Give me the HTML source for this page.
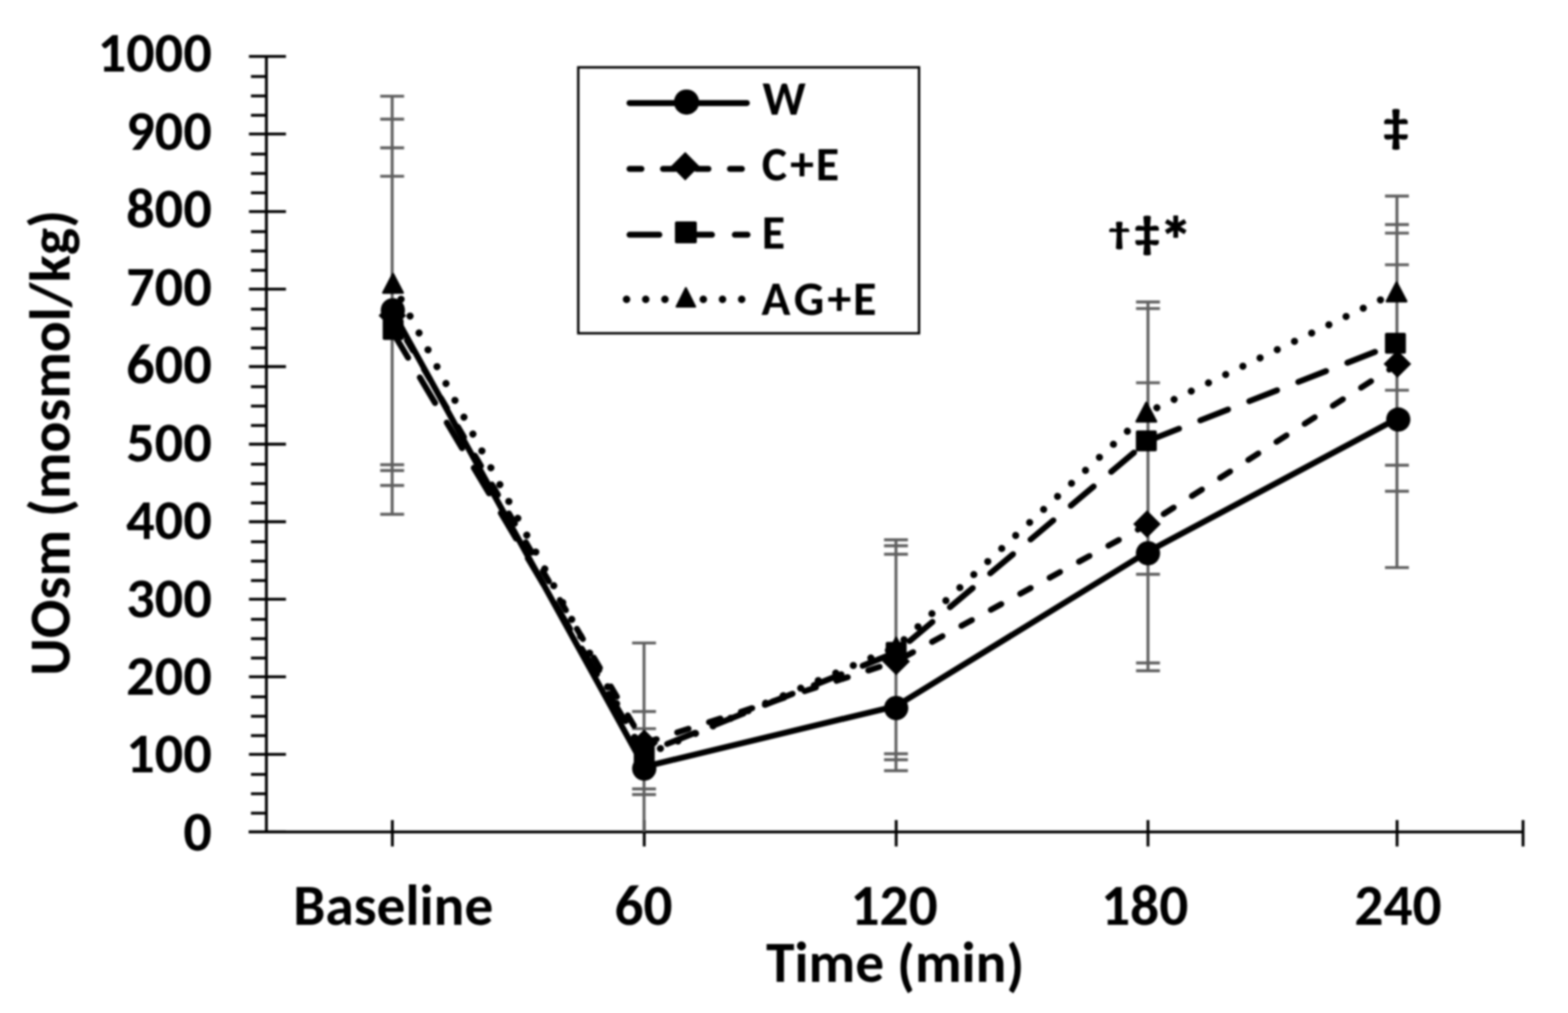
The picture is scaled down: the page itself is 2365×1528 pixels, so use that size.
<!DOCTYPE html>
<html><head><meta charset="utf-8"><title>UOsm chart</title>
<style>
html,body{margin:0;padding:0;background:#fff;}
body{width:2365px;height:1528px;overflow:hidden;}
svg{display:block;filter:blur(1.7px);}
text{font-family:Carlito, 'Liberation Sans', sans-serif;font-weight:bold;fill:#000;font-size-adjust:0.485;}
</style></head><body>
<svg width="2365" height="1528" viewBox="0 0 2365 1528">
<rect width="2365" height="1528" fill="#fff"/>
<line x1="401.8" y1="85.2" x2="401.8" y2="1254.8" stroke="#000" stroke-width="4.3"/>
<line x1="375" y1="1254.8" x2="2297.2" y2="1254.8" stroke="#000" stroke-width="4.3"/>
<line x1="375.5" y1="1254.8" x2="431.3" y2="1254.8" stroke="#000" stroke-width="4.3"/>
<line x1="378.5" y1="1226.6" x2="401.8" y2="1226.6" stroke="#000" stroke-width="4.3"/>
<line x1="378.5" y1="1197.3" x2="401.8" y2="1197.3" stroke="#000" stroke-width="4.3"/>
<line x1="378.5" y1="1168.1" x2="401.8" y2="1168.1" stroke="#000" stroke-width="4.3"/>
<line x1="375.5" y1="1137.8" x2="431.3" y2="1137.8" stroke="#000" stroke-width="4.3"/>
<line x1="378.5" y1="1109.6" x2="401.8" y2="1109.6" stroke="#000" stroke-width="4.3"/>
<line x1="378.5" y1="1080.4" x2="401.8" y2="1080.4" stroke="#000" stroke-width="4.3"/>
<line x1="378.5" y1="1051.1" x2="401.8" y2="1051.1" stroke="#000" stroke-width="4.3"/>
<line x1="375.5" y1="1020.9" x2="431.3" y2="1020.9" stroke="#000" stroke-width="4.3"/>
<line x1="378.5" y1="992.6" x2="401.8" y2="992.6" stroke="#000" stroke-width="4.3"/>
<line x1="378.5" y1="963.4" x2="401.8" y2="963.4" stroke="#000" stroke-width="4.3"/>
<line x1="378.5" y1="934.2" x2="401.8" y2="934.2" stroke="#000" stroke-width="4.3"/>
<line x1="375.5" y1="903.9" x2="431.3" y2="903.9" stroke="#000" stroke-width="4.3"/>
<line x1="378.5" y1="875.7" x2="401.8" y2="875.7" stroke="#000" stroke-width="4.3"/>
<line x1="378.5" y1="846.4" x2="401.8" y2="846.4" stroke="#000" stroke-width="4.3"/>
<line x1="378.5" y1="817.2" x2="401.8" y2="817.2" stroke="#000" stroke-width="4.3"/>
<line x1="375.5" y1="787.0" x2="431.3" y2="787.0" stroke="#000" stroke-width="4.3"/>
<line x1="378.5" y1="758.7" x2="401.8" y2="758.7" stroke="#000" stroke-width="4.3"/>
<line x1="378.5" y1="729.5" x2="401.8" y2="729.5" stroke="#000" stroke-width="4.3"/>
<line x1="378.5" y1="700.2" x2="401.8" y2="700.2" stroke="#000" stroke-width="4.3"/>
<line x1="375.5" y1="670.0" x2="431.3" y2="670.0" stroke="#000" stroke-width="4.3"/>
<line x1="378.5" y1="641.8" x2="401.8" y2="641.8" stroke="#000" stroke-width="4.3"/>
<line x1="378.5" y1="612.5" x2="401.8" y2="612.5" stroke="#000" stroke-width="4.3"/>
<line x1="378.5" y1="583.3" x2="401.8" y2="583.3" stroke="#000" stroke-width="4.3"/>
<line x1="375.5" y1="553.0" x2="431.3" y2="553.0" stroke="#000" stroke-width="4.3"/>
<line x1="378.5" y1="524.8" x2="401.8" y2="524.8" stroke="#000" stroke-width="4.3"/>
<line x1="378.5" y1="495.6" x2="401.8" y2="495.6" stroke="#000" stroke-width="4.3"/>
<line x1="378.5" y1="466.3" x2="401.8" y2="466.3" stroke="#000" stroke-width="4.3"/>
<line x1="375.5" y1="436.1" x2="431.3" y2="436.1" stroke="#000" stroke-width="4.3"/>
<line x1="378.5" y1="407.8" x2="401.8" y2="407.8" stroke="#000" stroke-width="4.3"/>
<line x1="378.5" y1="378.6" x2="401.8" y2="378.6" stroke="#000" stroke-width="4.3"/>
<line x1="378.5" y1="349.4" x2="401.8" y2="349.4" stroke="#000" stroke-width="4.3"/>
<line x1="375.5" y1="319.1" x2="431.3" y2="319.1" stroke="#000" stroke-width="4.3"/>
<line x1="378.5" y1="290.9" x2="401.8" y2="290.9" stroke="#000" stroke-width="4.3"/>
<line x1="378.5" y1="261.6" x2="401.8" y2="261.6" stroke="#000" stroke-width="4.3"/>
<line x1="378.5" y1="232.4" x2="401.8" y2="232.4" stroke="#000" stroke-width="4.3"/>
<line x1="375.5" y1="202.2" x2="431.3" y2="202.2" stroke="#000" stroke-width="4.3"/>
<line x1="378.5" y1="173.9" x2="401.8" y2="173.9" stroke="#000" stroke-width="4.3"/>
<line x1="378.5" y1="144.7" x2="401.8" y2="144.7" stroke="#000" stroke-width="4.3"/>
<line x1="378.5" y1="115.4" x2="401.8" y2="115.4" stroke="#000" stroke-width="4.3"/>
<line x1="375.5" y1="85.2" x2="431.3" y2="85.2" stroke="#000" stroke-width="4.3"/>
<line x1="591.8" y1="1237" x2="591.8" y2="1276.8" stroke="#000" stroke-width="4.3"/>
<line x1="971.7" y1="1237" x2="971.7" y2="1276.8" stroke="#000" stroke-width="4.3"/>
<line x1="1351.7" y1="1237" x2="1351.7" y2="1276.8" stroke="#000" stroke-width="4.3"/>
<line x1="1731.5" y1="1237" x2="1731.5" y2="1276.8" stroke="#000" stroke-width="4.3"/>
<line x1="2107.2" y1="1237" x2="2107.2" y2="1276.8" stroke="#000" stroke-width="4.3"/>
<line x1="2297.2" y1="1237" x2="2297.2" y2="1276.8" stroke="#000" stroke-width="4.3"/>
<line x1="591.5" y1="145.1" x2="591.5" y2="775.7" stroke="#5e5e5e" stroke-width="4.4"/>
<line x1="573.5" y1="145.1" x2="609.5" y2="145.1" stroke="#5e5e5e" stroke-width="4.4"/>
<line x1="573.5" y1="179.8" x2="609.5" y2="179.8" stroke="#5e5e5e" stroke-width="4.4"/>
<line x1="573.5" y1="223" x2="609.5" y2="223" stroke="#5e5e5e" stroke-width="4.4"/>
<line x1="573.5" y1="265.9" x2="609.5" y2="265.9" stroke="#5e5e5e" stroke-width="4.4"/>
<line x1="573.5" y1="701" x2="609.5" y2="701" stroke="#5e5e5e" stroke-width="4.4"/>
<line x1="573.5" y1="709.8" x2="609.5" y2="709.8" stroke="#5e5e5e" stroke-width="4.4"/>
<line x1="573.5" y1="732.3" x2="609.5" y2="732.3" stroke="#5e5e5e" stroke-width="4.4"/>
<line x1="573.5" y1="775.7" x2="609.5" y2="775.7" stroke="#5e5e5e" stroke-width="4.4"/>
<line x1="971.4" y1="969.9" x2="971.4" y2="1254.8" stroke="#5e5e5e" stroke-width="4.4"/>
<line x1="953.4" y1="969.9" x2="989.4" y2="969.9" stroke="#5e5e5e" stroke-width="4.4"/>
<line x1="953.4" y1="1073.3" x2="989.4" y2="1073.3" stroke="#5e5e5e" stroke-width="4.4"/>
<line x1="953.4" y1="1099.1" x2="989.4" y2="1099.1" stroke="#5e5e5e" stroke-width="4.4"/>
<line x1="953.4" y1="1190" x2="989.4" y2="1190" stroke="#5e5e5e" stroke-width="4.4"/>
<line x1="953.4" y1="1198.5" x2="989.4" y2="1198.5" stroke="#5e5e5e" stroke-width="4.4"/>
<line x1="1351.4" y1="814.2" x2="1351.4" y2="1162.5" stroke="#5e5e5e" stroke-width="4.4"/>
<line x1="1333.4" y1="814.2" x2="1369.4" y2="814.2" stroke="#5e5e5e" stroke-width="4.4"/>
<line x1="1333.4" y1="823.2" x2="1369.4" y2="823.2" stroke="#5e5e5e" stroke-width="4.4"/>
<line x1="1333.4" y1="836" x2="1369.4" y2="836" stroke="#5e5e5e" stroke-width="4.4"/>
<line x1="1333.4" y1="1137" x2="1369.4" y2="1137" stroke="#5e5e5e" stroke-width="4.4"/>
<line x1="1333.4" y1="1146" x2="1369.4" y2="1146" stroke="#5e5e5e" stroke-width="4.4"/>
<line x1="1333.4" y1="1162.5" x2="1369.4" y2="1162.5" stroke="#5e5e5e" stroke-width="4.4"/>
<line x1="1731.5" y1="455.5" x2="1731.5" y2="1011.8" stroke="#5e5e5e" stroke-width="4.4"/>
<line x1="1713.5" y1="455.5" x2="1749.5" y2="455.5" stroke="#5e5e5e" stroke-width="4.4"/>
<line x1="1713.5" y1="465.4" x2="1749.5" y2="465.4" stroke="#5e5e5e" stroke-width="4.4"/>
<line x1="1713.5" y1="577.4" x2="1749.5" y2="577.4" stroke="#5e5e5e" stroke-width="4.4"/>
<line x1="1713.5" y1="866.3" x2="1749.5" y2="866.3" stroke="#5e5e5e" stroke-width="4.4"/>
<line x1="1713.5" y1="1000" x2="1749.5" y2="1000" stroke="#5e5e5e" stroke-width="4.4"/>
<line x1="1713.5" y1="1011.8" x2="1749.5" y2="1011.8" stroke="#5e5e5e" stroke-width="4.4"/>
<line x1="2107.0" y1="295.7" x2="2107.0" y2="856.1" stroke="#5e5e5e" stroke-width="4.4"/>
<line x1="2089.0" y1="295.7" x2="2125.0" y2="295.7" stroke="#5e5e5e" stroke-width="4.4"/>
<line x1="2089.0" y1="338.7" x2="2125.0" y2="338.7" stroke="#5e5e5e" stroke-width="4.4"/>
<line x1="2089.0" y1="351.6" x2="2125.0" y2="351.6" stroke="#5e5e5e" stroke-width="4.4"/>
<line x1="2089.0" y1="399.4" x2="2125.0" y2="399.4" stroke="#5e5e5e" stroke-width="4.4"/>
<line x1="2089.0" y1="588.6" x2="2125.0" y2="588.6" stroke="#5e5e5e" stroke-width="4.4"/>
<line x1="2089.0" y1="701.8" x2="2125.0" y2="701.8" stroke="#5e5e5e" stroke-width="4.4"/>
<line x1="2089.0" y1="741" x2="2125.0" y2="741" stroke="#5e5e5e" stroke-width="4.4"/>
<line x1="2089.0" y1="856.1" x2="2125.0" y2="856.1" stroke="#5e5e5e" stroke-width="4.4"/>
<polyline points="591.8,469.0 971.7,1156.5 1351.7,1065.0 1731.5,832.0 2107.2,631.5" fill="none" stroke="#000" stroke-width="9.0" stroke-linejoin="round"/>
<line x1="591.8" y1="476.0" x2="971.7" y2="1121.0" stroke="#000" stroke-width="9.0" stroke-dasharray="18.00 32.50" stroke-dashoffset="7.19" stroke-linecap="round"/>
<line x1="971.7" y1="1121.0" x2="1351.7" y2="997.7" stroke="#000" stroke-width="9.0" stroke-dasharray="18.00 32.50" stroke-dashoffset="48.75" stroke-linecap="round"/>
<line x1="1351.7" y1="997.7" x2="1731.5" y2="790.5" stroke="#000" stroke-width="9.0" stroke-dasharray="18.00 32.50" stroke-dashoffset="39.40" stroke-linecap="round"/>
<line x1="1731.5" y1="790.5" x2="2107.2" y2="550.0" stroke="#000" stroke-width="9.0" stroke-dasharray="18.00 32.50" stroke-dashoffset="22.40" stroke-linecap="round"/>
<line x1="591.8" y1="500.0" x2="971.7" y2="1136.0" stroke="#000" stroke-width="9.0" stroke-dasharray="45.00 34.40" stroke-dashoffset="78.10" stroke-linecap="round"/>
<line x1="971.7" y1="1136.0" x2="1351.7" y2="984.0" stroke="#000" stroke-width="9.0" stroke-dasharray="45.00 34.40" stroke-dashoffset="42.23" stroke-linecap="round"/>
<line x1="1351.7" y1="984.0" x2="1731.5" y2="665.0" stroke="#000" stroke-width="9.0" stroke-dasharray="45.00 34.40" stroke-dashoffset="53.00" stroke-linecap="round"/>
<line x1="1731.5" y1="665.0" x2="2107.2" y2="517.8" stroke="#000" stroke-width="9.0" stroke-dasharray="45.00 34.40" stroke-dashoffset="74.10" stroke-linecap="round"/>
<line x1="591.8" y1="426.7" x2="971.7" y2="1139.6" stroke="#000" stroke-width="10.8" stroke-dasharray="0.01 28.79" stroke-dashoffset="0.84" stroke-linecap="round"/>
<line x1="971.7" y1="1139.6" x2="1351.7" y2="976.0" stroke="#000" stroke-width="10.8" stroke-dasharray="0.01 28.79" stroke-dashoffset="2.24" stroke-linecap="round"/>
<line x1="1351.7" y1="976.0" x2="1731.5" y2="621.5" stroke="#000" stroke-width="10.8" stroke-dasharray="0.01 28.79" stroke-dashoffset="12.60" stroke-linecap="round"/>
<line x1="1731.5" y1="621.5" x2="2107.2" y2="440.3" stroke="#000" stroke-width="10.8" stroke-dasharray="0.01 28.79" stroke-dashoffset="13.90" stroke-linecap="round"/>
<circle cx="592.5" cy="468.0" r="18.3" fill="#000"/>
<polygon points="591.8,455.2 612.6,476.0 591.8,496.8 571.0,476.0" fill="#000"/>
<rect x="577.2" y="481.2" width="31.6" height="31.6" rx="2.5" fill="#000"/>
<polygon points="592.8,413.1 607.7,441.6 577.9,441.6" fill="#000" stroke="#000" stroke-width="3.2" stroke-linejoin="round"/>
<circle cx="971.7" cy="1159.3" r="18.3" fill="#000"/>
<polygon points="971.7,1100.2 992.5,1121.0 971.7,1141.8 950.9,1121.0" fill="#000"/>
<rect x="955.9" y="1125.2" width="31.6" height="31.6" rx="2.5" fill="#000"/>
<polygon points="971.7,1125.4 986.6,1153.9 956.8,1153.9" fill="#000" stroke="#000" stroke-width="3.2" stroke-linejoin="round"/>
<circle cx="1351.7" cy="1068.0" r="18.3" fill="#000"/>
<polygon points="1351.7,976.9 1372.5,997.7 1351.7,1018.5 1330.9,997.7" fill="#000"/>
<rect x="1335.9" y="968.2" width="31.6" height="31.6" rx="2.5" fill="#000"/>
<polygon points="1351.7,961.8 1366.6,990.3 1336.8,990.3" fill="#000" stroke="#000" stroke-width="3.2" stroke-linejoin="round"/>
<circle cx="1731.5" cy="834.5" r="18.3" fill="#000"/>
<polygon points="1730.0,769.7 1750.8,790.5 1730.0,811.3 1709.2,790.5" fill="#000"/>
<rect x="1713.2" y="649.2" width="31.6" height="31.6" rx="2.5" fill="#000"/>
<polygon points="1729.0,607.3 1743.9,635.8 1714.1,635.8" fill="#000" stroke="#000" stroke-width="3.2" stroke-linejoin="round"/>
<circle cx="2109.0" cy="632.8" r="18.3" fill="#000"/>
<polygon points="2107.7,528.2 2128.5,549.0 2107.7,569.8 2086.9,549.0" fill="#000"/>
<rect x="2088.9" y="501.9" width="31.6" height="31.6" rx="2.5" fill="#000"/>
<polygon points="2106.4,426.1 2121.3,454.6 2091.5,454.6" fill="#000" stroke="#000" stroke-width="3.2" stroke-linejoin="round"/>
<rect x="872.2" y="101.6" width="514" height="401.1" fill="none" stroke="#000" stroke-width="3.6"/>
<line x1="949.5" y1="155.4" x2="1126.5" y2="155.4" stroke="#000" stroke-width="9.0" stroke-linecap="round"/>
<circle cx="1035.5" cy="153.9" r="19" fill="#000"/>
<line x1="949.5" y1="254.8" x2="1122" y2="254.8" stroke="#000" stroke-width="9.0" stroke-dasharray="18.00 32.50" stroke-linecap="round"/>
<polygon points="1033.5,229.3 1055.0,250.8 1033.5,272.3 1012.0,250.8" fill="#000"/>
<line x1="949.5" y1="354.1" x2="1127.5" y2="354.1" stroke="#000" stroke-width="9.0" stroke-dasharray="45.00 34.40" stroke-linecap="round"/>
<rect x="1018.0" y="334.1" width="33.0" height="33.0" rx="2.5" fill="#000"/>
<line x1="945" y1="451.5" x2="1125" y2="451.5" stroke="#000" stroke-width="11.3" stroke-dasharray="0.01 28.94" stroke-linecap="round"/>
<polygon points="1034.5,434.6 1048.4,462.5 1020.6,462.5" fill="#000" stroke="#000" stroke-width="3.2" stroke-linejoin="round"/>
<text x="319.5" y="1282.9" font-size="85" text-anchor="end" textLength="43.09" lengthAdjust="spacingAndGlyphs">0</text>
<text x="319.5" y="1165.4" font-size="85" text-anchor="end" textLength="129.25" lengthAdjust="spacingAndGlyphs">100</text>
<text x="319.5" y="1047.9" font-size="85" text-anchor="end" textLength="129.25" lengthAdjust="spacingAndGlyphs">200</text>
<text x="319.5" y="930.5" font-size="85" text-anchor="end" textLength="129.25" lengthAdjust="spacingAndGlyphs">300</text>
<text x="319.5" y="813.0" font-size="85" text-anchor="end" textLength="129.25" lengthAdjust="spacingAndGlyphs">400</text>
<text x="319.5" y="695.5" font-size="85" text-anchor="end" textLength="129.25" lengthAdjust="spacingAndGlyphs">500</text>
<text x="319.5" y="578.0" font-size="85" text-anchor="end" textLength="129.25" lengthAdjust="spacingAndGlyphs">600</text>
<text x="319.5" y="460.5" font-size="85" text-anchor="end" textLength="129.25" lengthAdjust="spacingAndGlyphs">700</text>
<text x="319.5" y="343.1" font-size="85" text-anchor="end" textLength="129.25" lengthAdjust="spacingAndGlyphs">800</text>
<text x="319.5" y="225.6" font-size="85" text-anchor="end" textLength="129.25" lengthAdjust="spacingAndGlyphs">900</text>
<text x="319.5" y="108.1" font-size="85" text-anchor="end" textLength="172.33" lengthAdjust="spacingAndGlyphs">1000</text>
<text x="593.2" y="1395.3" font-size="86.5" text-anchor="middle" textLength="301.70" lengthAdjust="spacingAndGlyphs">Baseline</text>
<text x="970.5" y="1395.3" font-size="86.5" text-anchor="middle" textLength="87.69" lengthAdjust="spacingAndGlyphs">60</text>
<text x="1348.5" y="1395.3" font-size="86.5" text-anchor="middle" textLength="131.53" lengthAdjust="spacingAndGlyphs">120</text>
<text x="1726.5" y="1395.3" font-size="86.5" text-anchor="middle" textLength="131.53" lengthAdjust="spacingAndGlyphs">180</text>
<text x="2108.6" y="1395.3" font-size="86.5" text-anchor="middle" textLength="131.53" lengthAdjust="spacingAndGlyphs">240</text>
<text x="1350.2" y="1481.1" font-size="86.5" text-anchor="middle" textLength="389.48" lengthAdjust="spacingAndGlyphs">Time <tspan dy="4">(</tspan><tspan dy="-4">min</tspan><tspan dy="4">)</tspan></text>
<text x="0" y="0" font-size="86.5" text-anchor="middle" transform="translate(104.5 668.0) rotate(-90)" textLength="702.48" lengthAdjust="spacingAndGlyphs">UOsm (mosmol/kg)</text>
<text x="1149.9" y="172.6" font-size="72" text-anchor="start">W</text>
<text x="1148.9 1191.8 1230.45" y="272.4" font-size="72" text-anchor="start">C+E</text>
<text x="1148.95" y="375.2" font-size="72" text-anchor="start">E</text>
<text x="1148.56 1197.2 1248.1 1286.65" y="475.2" font-size="72" text-anchor="start">AG+E</text>
<text x="1688" y="368" font-size="47" text-anchor="middle" stroke="#000" stroke-width="1.4" stroke-linejoin="round" style="font-size-adjust:none" transform="translate(1688 0) scale(1.35 1) translate(-1688 0)" textLength="23.41" lengthAdjust="spacingAndGlyphs">†</text>
<text x="1730" y="372.8" font-size="67" text-anchor="middle" stroke="#000" stroke-width="1.4" stroke-linejoin="round" style="font-size-adjust:none" transform="translate(1730 0) scale(1.13 1) translate(-1730 0)" textLength="33.37" lengthAdjust="spacingAndGlyphs">‡</text>
<text x="1773.5" y="396.5" font-size="100" text-anchor="middle" stroke="#000" stroke-width="1.4" stroke-linejoin="round" style="font-size-adjust:none" textLength="49.81" lengthAdjust="spacingAndGlyphs">*</text>
<text x="2105.5" y="213" font-size="69" text-anchor="middle" stroke="#000" stroke-width="1.4" stroke-linejoin="round" style="font-size-adjust:none" transform="translate(2105.5 0) scale(1.1 1) translate(-2105.5 0)" textLength="34.37" lengthAdjust="spacingAndGlyphs">‡</text>
</svg>
</body></html>
